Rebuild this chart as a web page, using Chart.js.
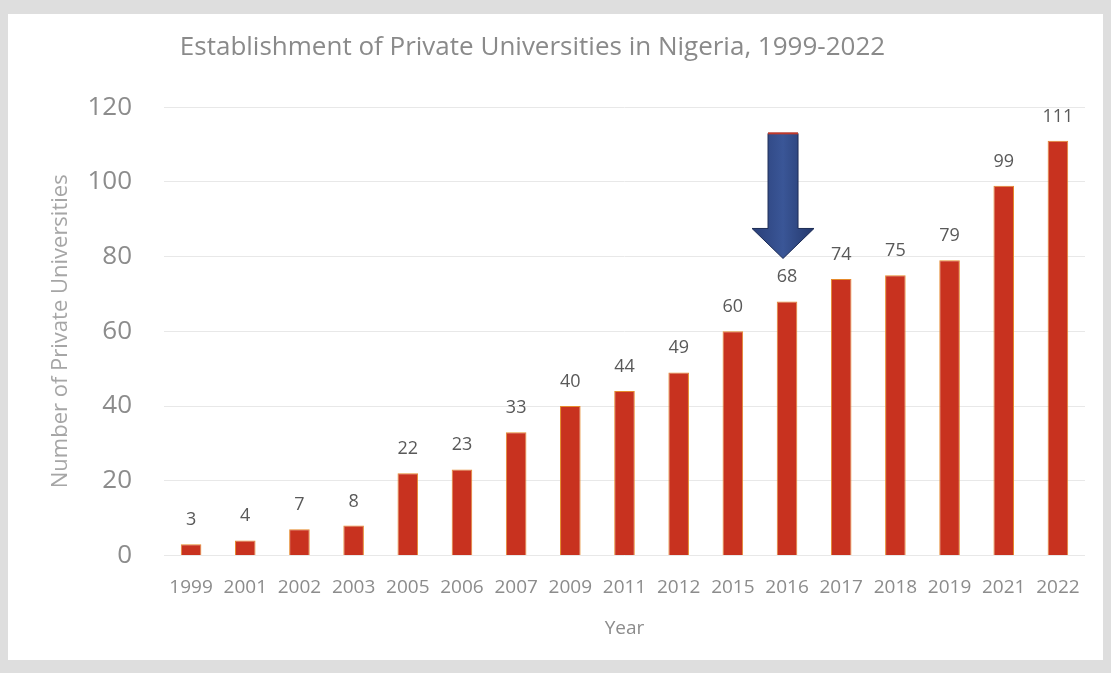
<!DOCTYPE html>
<html>
<head>
<meta charset="utf-8">
<script src="https://cdn.jsdelivr.net/npm/chart.js@4/dist/chart.umd.min.js"></script>
<style>
  html, body { margin: 0; padding: 0; background: #dedede; }
  #frame { position: absolute; left: 8px; top: 14px; width: 1095px; height: 646px; background: #fff; }
  #grafica { display: block; }
</style>
</head>
<body>
<div id="frame"><canvas id="grafica" width="1095" height="646"></canvas></div>
<script>
const years = ['1999', '2001', '2002', '2003', '2005', '2006', '2007', '2009', '2011',
               '2012', '2015', '2016', '2017', '2018', '2019', '2021', '2022'];
const universities = [3, 4, 7, 8, 22, 23, 33, 40, 44, 49, 60, 68, 74, 75, 79, 99, 111];
const yTicks = [0, 20, 40, 60, 80, 100, 120];
// arrow pointing at 2016, from/to in axis units
const arrowYear = '2016';
const arrowFrom = 113;
const arrowTo = 79.5;

const valueLabels = {
    id: 'valueLabels',
    afterDatasetsDraw(chart) {
        const ctx = chart.ctx;
        const meta = chart.getDatasetMeta(0);
        ctx.save();
        ctx.fillStyle = '#595959';
        ctx.font = '18px "Open Sans"';
        ctx.textAlign = 'center';
        ctx.textBaseline = 'alphabetic';
        meta.data.forEach((bar, i) => {
            ctx.fillText(universities[i], bar.x, bar.y - 19);
        });
        ctx.restore();
    }
};

// title sits a bit left of centre in the original
const titleShift = {
    id: 'titleShift',
    afterLayout(chart) {
        if (chart.titleBlock) chart.titleBlock.right -= 64;
    }
};

const arrow = {
    id: 'arrow',
    afterDatasetsDraw(chart) {
        const ctx = chart.ctx;
        const xs = chart.scales.x, ys = chart.scales.y;
        const cx = xs.getPixelForValue(years.indexOf(arrowYear)) - 4;
        const top = ys.getPixelForValue(arrowFrom);
        const tip = ys.getPixelForValue(arrowTo);
        const headTop = tip - 30;
        const shaft = 15, head = 31;
        ctx.save();
        const g = ctx.createLinearGradient(cx - head, 0, cx + head, 0);
        g.addColorStop(0, '#2a3f78');
        g.addColorStop(0.5, '#3a5697');
        g.addColorStop(1, '#24386c');
        ctx.fillStyle = g;
        ctx.strokeStyle = '#1d2c55';
        ctx.lineWidth = 1;
        ctx.beginPath();
        ctx.moveTo(cx - shaft, top);
        ctx.lineTo(cx + shaft, top);
        ctx.lineTo(cx + shaft, headTop);
        ctx.lineTo(cx + head, headTop);
        ctx.lineTo(cx, tip);
        ctx.lineTo(cx - head, headTop);
        ctx.lineTo(cx - shaft, headTop);
        ctx.closePath();
        ctx.fill();
        ctx.stroke();
        ctx.strokeStyle = '#c0392b';
        ctx.lineWidth = 2;
        ctx.beginPath();
        ctx.moveTo(cx - shaft, top);
        ctx.lineTo(cx + shaft, top);
        ctx.stroke();
        ctx.restore();
    }
};

new Chart(document.getElementById('grafica'), {
    type: 'bar',
    data: {
        labels: years,
        datasets: [{
            label: 'Private Universities',
            data: universities,
            backgroundColor: '#c8321f',
            borderColor: '#e58a2c',
            borderWidth: 1,
            barPercentage: 0.76,
            categoryPercentage: 0.5
        }]
    },
    options: {
        responsive: false,
        animation: false,
        layout: { padding: { top: 10, right: 18, bottom: 16, left: 36 } },
        plugins: {
            legend: { display: false },
            tooltip: { enabled: false },
            title: {
                display: true,
                text: 'Establishment of Private Universities in Nigeria, 1999-2022',
                color: '#8a8a8a',
                font: { family: 'Open Sans', size: 26, weight: 'normal' },
                padding: { top: 8, bottom: 44 }
            }
        },
        scales: {
            x: {
                grid: { display: false },
                border: { display: false },
                ticks: { color: '#8c8c8c', font: { family: 'Open Sans', size: 19 }, maxRotation: 0, autoSkip: false, padding: 13 },
                title: { display: true, text: 'Year', color: '#8c8c8c', font: { family: 'Open Sans', size: 19 }, padding: { top: 5 } }
            },
            y: {
                min: 0,
                max: 120,
                afterBuildTicks: axis => { axis.ticks = yTicks.map(v => ({ value: v })); },
                afterFit: axis => { axis.width = 120; },
                grid: { color: '#e8e8e8', drawTicks: false },
                border: { display: false },
                ticks: { color: '#8c8c8c', font: { family: 'Open Sans', size: 26 }, padding: 32 },
                title: { display: true, text: 'Number of Private Universities', color: '#a6a6a6', font: { family: 'Open Sans', size: 22 }, padding: { bottom: 10 } }
            }
        }
    },
    plugins: [valueLabels, titleShift, arrow]
});
</script>
</body>
</html>
